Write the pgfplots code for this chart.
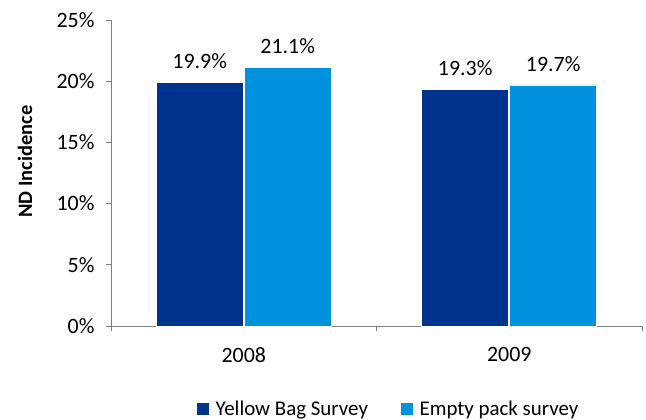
\documentclass[border=0pt]{standalone}
\usepackage{pgfplots}
\pgfplotsset{compat=1.18}
\usepackage{fontspec}
\setmainfont{Carlito}
\definecolor{dblue}{HTML}{00338D}
\definecolor{lblue}{HTML}{0092DD}
\definecolor{axgray}{HTML}{7F7F7F}
\begin{document}
\begin{tikzpicture}
\useasboundingbox (-111bp,-94bp) rectangle (535bp,326bp);
\begin{axis}[
  at={(0,0)}, anchor=south west,
  scale only axis, width=531bp, height=306bp,
  ybar=1bp, bar width=87bp,
  xmin=0.5, xmax=2.5, ymin=0, ymax=25,
  axis x line*=bottom, axis y line*=left,
  axis line style={axgray, line width=0.8bp},
  xtick={0.5,1.5,2.5}, xticklabels={},
  extra x ticks={1,2}, extra x tick labels={2008,2009},
  extra x tick style={major tick length=0pt},
  ytick={0,5,10,15,20,25},
  yticklabel={\pgfmathprintnumber{\tick}\%},
  tick align=outside, major tick length=5bp,
  tick style={axgray, line width=0.8bp},
  /pgf/number format/assume math mode=true,
  font=\fontsize{22}{26}\selectfont,
  ticklabel style={font=\fontsize{22}{26}\selectfont},
  xticklabel style={yshift=-18bp},
  yticklabel style={xshift=-8bp},
  ylabel={\textbf{ND Incidence}},
  ylabel style={font=\fontsize{20.5}{24}\selectfont, at={(axis description cs:-0.162,0.537)}, anchor=center},
  nodes near coords={\pgfmathprintnumber[fixed,precision=1,fixed zerofill]{\pgfplotspointmeta}\%},
  every node near coord/.append style={font=\fontsize{22}{26}\selectfont, black, yshift=10bp},
  legend style={at={(0.522,-0.27)}, anchor=center, draw=none, legend columns=2,
    font=\fontsize{21}{25}\selectfont, inner sep=0pt,
    /tikz/every odd column/.append style={column sep=4bp},
    /tikz/every even column/.append style={column sep=30bp}},
  legend image code/.code={\fill[#1] (0bp,-6.5bp) rectangle (13bp,6.5bp);},
]
\addplot[fill=dblue, draw=white, line width=0.6bp] coordinates {(1,19.9) (2,19.3)};
\addplot[fill=lblue, draw=white, line width=0.6bp] coordinates {(1,21.1) (2,19.7)};
\legend{Yellow Bag Survey, Empty pack survey}
\end{axis}
\end{tikzpicture}
\end{document}
